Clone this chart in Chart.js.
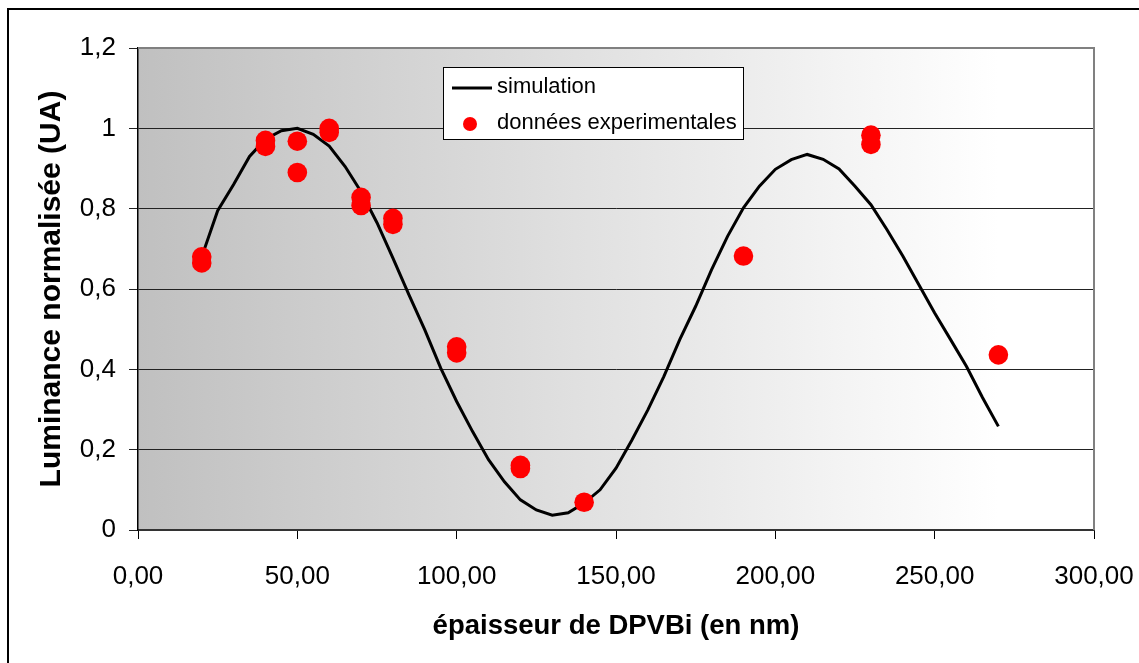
<!DOCTYPE html>
<html><head><meta charset="utf-8">
<script src="https://cdn.jsdelivr.net/npm/chart.js@4"></script>
<style>html,body{margin:0;padding:0;background:#fff;overflow:hidden}</style>
</head><body>
<canvas id="c" width="1139" height="663"></canvas>
<script>
const simX = [20,25,30,35,40,45,50,55,60,65,70,75,80,85,90,95,100,105,110,115,120,125,130,135,140,145,150,155,160,165,170,175,180,185,190,195,200,205,210,215,220,225,230,235,240,245,250,255,260,265,270];
const simY = [0.68,0.795,0.86,0.93,0.973,0.994,1.0,0.985,0.956,0.905,0.842,0.765,0.677,0.586,0.498,0.403,0.32,0.245,0.175,0.12,0.075,0.05,0.037,0.043,0.067,0.10,0.154,0.224,0.299,0.382,0.474,0.557,0.648,0.731,0.802,0.856,0.898,0.922,0.935,0.923,0.899,0.856,0.81,0.748,0.682,0.611,0.54,0.474,0.407,0.33,0.258];
const expX = [20,20,40,40,50,50,60,60,70,70,80,80,100,100,120,120,140,190,230,230,270];
const expY = [0.68,0.665,0.97,0.955,0.968,0.89,1.0,0.99,0.828,0.808,0.776,0.761,0.456,0.441,0.161,0.153,0.069,0.682,0.983,0.96,0.436];
const xTickLabels = ['0,00','50,00','100,00','150,00','200,00','250,00','300,00'];
const yTickLabels = ['0','0,2','0,4','0,6','0,8','1','1,2'];
const seriesNames = ['simulation','données experimentales'];
const xTitle = 'épaisseur de DPVBi (en nm)';
const yTitle = 'Luminance normalisée (UA)';

const FONT = "'Liberation Sans', Arial, sans-serif";

const deco = {
  id: 'deco',
  beforeDraw(chart) {
    const {ctx, chartArea: a} = chart;
    ctx.save();
    ctx.fillStyle = '#fff';
    ctx.fillRect(0, 0, chart.width, chart.height);
    const g = ctx.createLinearGradient(a.left, 0, a.right, 0);
    g.addColorStop(0, '#c0c0c0');
    g.addColorStop(0.9, '#ffffff');
    g.addColorStop(1, '#ffffff');
    ctx.fillStyle = g;
    ctx.fillRect(a.left, a.top, a.right - a.left, a.bottom - a.top);
    ctx.strokeStyle = '#000';
    ctx.lineWidth = 2;
    ctx.strokeRect(8, 9, 1400, 900);
    ctx.restore();
  },
  beforeDatasetsDraw(chart) {
    const {ctx, chartArea: a} = chart;
    ctx.save();
    ctx.strokeStyle = '#808080';
    ctx.lineWidth = 2;
    ctx.beginPath();
    ctx.moveTo(a.left, a.top);
    ctx.lineTo(a.right, a.top);
    ctx.lineTo(a.right, a.bottom);
    ctx.stroke();
    ctx.restore();
  },
  afterDraw(chart) {
    const {ctx, chartArea: a} = chart;
    const ds = chart.data.datasets;
    const bx = a.left + 305, by = a.top + 19, bw = 300, bh = 72;
    ctx.save();
    ctx.fillStyle = '#fff';
    ctx.fillRect(bx, by, bw, bh);
    ctx.strokeStyle = '#000';
    ctx.lineWidth = 1;
    ctx.strokeRect(bx + 0.5, by + 0.5, bw, bh);
    ctx.font = '22px ' + FONT;
    ctx.textBaseline = 'middle';
    ctx.textAlign = 'left';
    ctx.fillStyle = '#000';
    ctx.strokeStyle = ds[0].borderColor;
    ctx.lineWidth = 3;
    ctx.beginPath();
    ctx.moveTo(bx + 9, by + 21);
    ctx.lineTo(bx + 49, by + 21);
    ctx.stroke();
    ctx.fillText(ds[0].label, bx + 54, by + 20);
    ctx.fillStyle = ds[1].backgroundColor;
    ctx.beginPath();
    ctx.arc(bx + 27, by + 57, 7, 0, Math.PI * 2);
    ctx.fill();
    ctx.fillStyle = '#000';
    ctx.fillText(ds[1].label, bx + 54, by + 56);
    ctx.restore();
  }
};

new Chart(document.getElementById('c'), {
  type: 'scatter',
  data: {
    datasets: [
      {
        label: seriesNames[0],
        data: simX.map((x, i) => ({x, y: simY[i]})),
        showLine: true,
        borderColor: '#000',
        borderWidth: 3,
        pointRadius: 0,
        pointHoverRadius: 0,
        tension: 0,
        order: 2
      },
      {
        label: seriesNames[1],
        data: expX.map((x, i) => ({x, y: expY[i]})),
        showLine: false,
        backgroundColor: '#ff0000',
        borderColor: '#ff0000',
        borderWidth: 0,
        pointRadius: 9.8,
        order: 1
      }
    ]
  },
  options: {
    responsive: false,
    animation: false,
    devicePixelRatio: 1,
    layout: {padding: {left: 0, top: 48, right: 45, bottom: 0}},
    plugins: {legend: {display: false}, tooltip: {enabled: false}},
    scales: {
      x: {
        type: 'linear', min: 0, max: 300,
        afterFit(s) { s.height = 133; s.paddingLeft = 0; s.paddingRight = 0; },
        ticks: {
          stepSize: 50, color: '#000', padding: 22,
          font: {family: FONT, size: 26},
          callback: (v, i) => xTickLabels[i]
        },
        grid: {display: true, drawOnChartArea: false, drawTicks: true, tickLength: 9, color: '#000', lineWidth: 1},
        border: {display: true, color: '#333', width: 2},
        title: {display: true, text: xTitle, color: '#000', font: {family: FONT, size: 27.5, weight: 'bold'}, padding: {top: 0, bottom: 20}}
      },
      y: {
        type: 'linear', min: 0, max: 1.2,
        afterFit(s) { s.width = 138; s.paddingTop = 0; s.paddingBottom = 0; },
        ticks: {
          stepSize: 0.2, color: '#000', padding: 13,
          font: {family: FONT, size: 26},
          callback: (v, i) => yTickLabels[i]
        },
        grid: {display: true, drawOnChartArea: true, drawTicks: true, tickLength: 9, color: '#222', lineWidth: 1},
        border: {display: true, color: '#000', width: 1.5},
        title: {display: true, text: yTitle, color: '#000', font: {family: FONT, size: 30, weight: 'bold'}, padding: {top: 34, bottom: 0}}
      }
    }
  },
  plugins: [deco]
});
</script>
</body></html>
